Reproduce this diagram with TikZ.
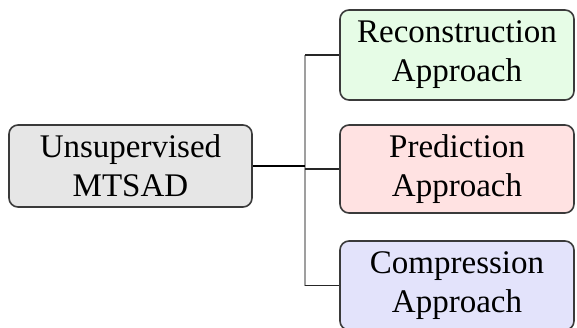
\documentclass[tikz,border=0pt]{standalone}
\usepackage{fontspec}
\setmainfont{Liberation Serif}
\definecolor{boxgray}{HTML}{E6E6E6}
\definecolor{boxgreen}{HTML}{E6FCE6}
\definecolor{boxred}{HTML}{FFE2E2}
\definecolor{boxblue}{HTML}{E3E3FB}
\definecolor{edge}{HTML}{3A3A3A}
\tikzset{
  catbox/.style={draw=edge, line width=1.6pt, rounded corners=9pt, align=center,
    inner sep=0pt, font=\fontsize{33}{39}\selectfont},
  trunk/.style={draw=black, line width=2.2pt},
  spine/.style={draw=gray!75, line width=1.8pt},
  branch/.style={draw=black!85, line width=1.2pt}
}
\begin{document}
\begin{tikzpicture}[x=1pt,y=-1pt]
  \useasboundingbox (0,0) rectangle (577,327);
  \clip (0,0) rectangle (577,327);
  % root and the three approach boxes
  \node[catbox, fill=boxgray, minimum width=243pt, minimum height=82pt] (root) at (130.5,166) {Unsupervised\\MTSAD};
  \node[catbox, fill=boxgreen, minimum width=234pt, minimum height=90pt] (rec) at (457,55) {Reconstruction\\Approach};
  \node[catbox, fill=boxred, minimum width=234pt, minimum height=88pt] (pred) at (457,169) {Prediction\\Approach};
  \node[catbox, fill=boxblue, minimum width=234pt, minimum height=89pt] (comp) at (457,285.5) {Compression\\Approach};
  % tree connectors
  \coordinate (bar) at (305,0);
  \draw[spine] (bar |- rec.west) -- (bar |- comp.west);
  \draw[trunk] (root.east) -- (root.east -| bar);
  \draw[branch] (bar |- rec.west) -- (rec.west);
  \draw[branch] (bar |- pred.west) -- (pred.west);
  \draw[branch] (bar |- comp.west) -- (comp.west);
\end{tikzpicture}
\end{document}
